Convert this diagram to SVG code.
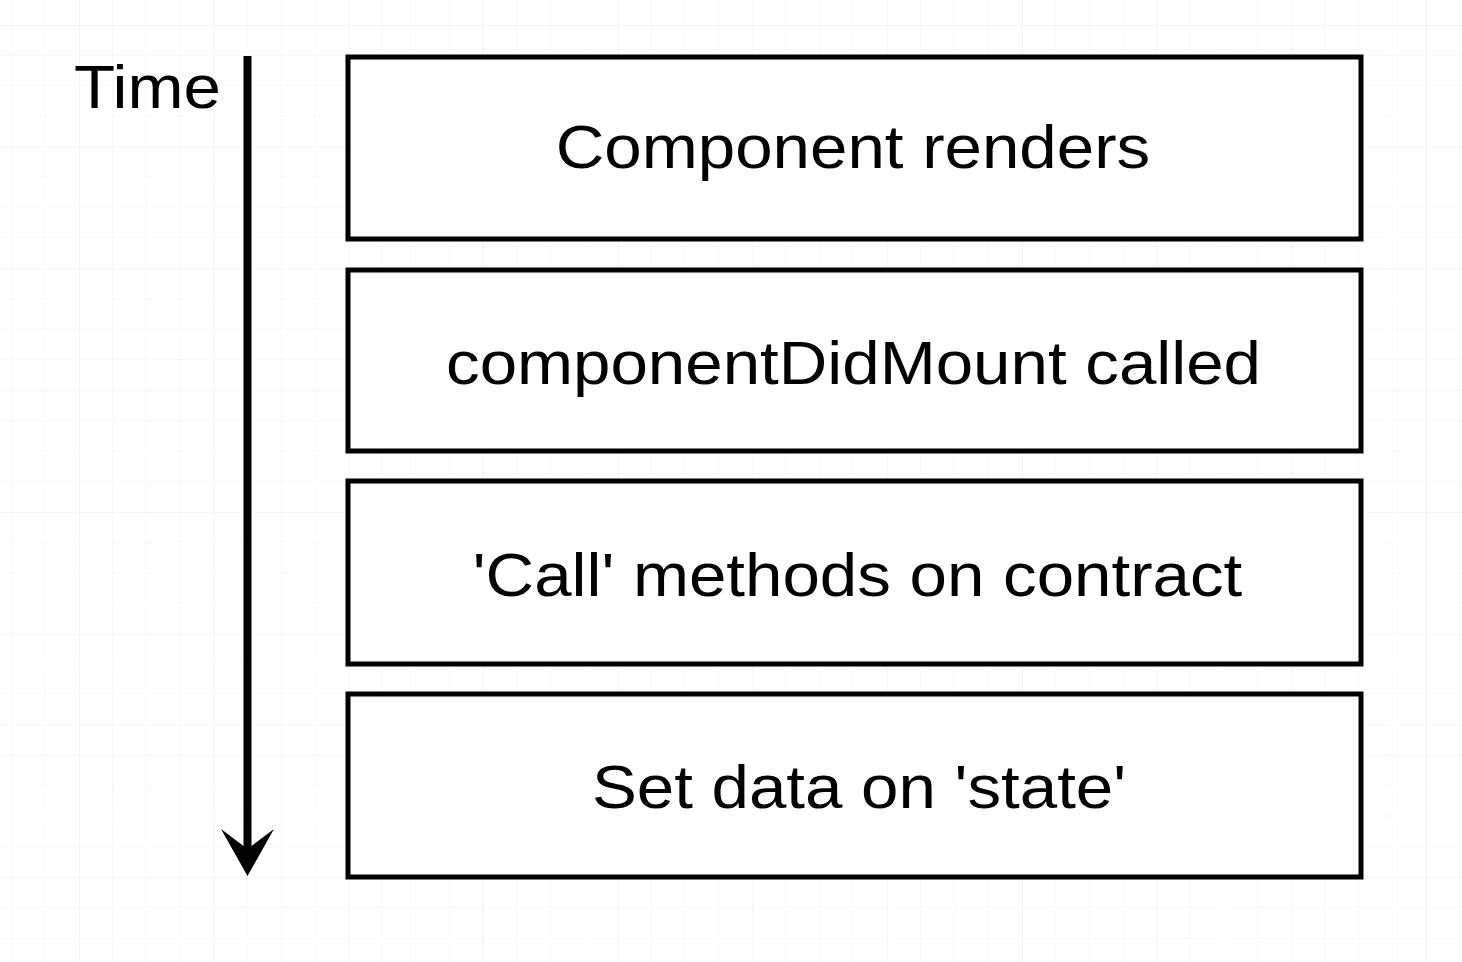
<svg xmlns="http://www.w3.org/2000/svg" width="1462" height="962" viewBox="0 0 1462 962">
  <defs>
    <pattern id="grid" patternUnits="userSpaceOnUse" x="79" y="25" width="134.7" height="121.7">
      <g stroke="#f8f8f8" stroke-width="1">
        <line x1="33.675" y1="0" x2="33.675" y2="121.7"/>
        <line x1="67.35" y1="0" x2="67.35" y2="121.7"/>
        <line x1="101.025" y1="0" x2="101.025" y2="121.7"/>
        <line x1="0" y1="30.425" x2="134.7" y2="30.425"/>
        <line x1="0" y1="60.85" x2="134.7" y2="60.85"/>
        <line x1="0" y1="91.275" x2="134.7" y2="91.275"/>
      </g>
      <g stroke="#ebebeb" stroke-width="1.2">
        <line x1="0" y1="0" x2="0" y2="121.7"/>
        <line x1="0" y1="0" x2="134.7" y2="0"/>
      </g>
    </pattern>
    <style>
      .box { fill: #ffffff; stroke: #000000; stroke-width: 5; }
      .lbl { font-family: "Liberation Sans", Arial, sans-serif; font-size: 62px; fill: #000000; }
    </style>
  </defs>
  <rect x="0" y="0" width="1462" height="962" fill="#ffffff"/>
  <rect x="0" y="0" width="1462" height="962" fill="url(#grid)"/>

  <g id="time-label">
    <text class="lbl" transform="translate(74,108) scale(1.085,1)">Time</text>
  </g>

  <g id="connectors">
    <line x1="247.5" y1="56" x2="247.5" y2="852" stroke="#000" stroke-width="8"/>
    <polygon points="247.5,876 221,829 247.5,849 274,829" fill="#000"/>
  </g>

  <g id="node-1">
    <rect class="box" x="348" y="57" width="1013" height="182"/>
    <text class="lbl" text-anchor="middle" transform="translate(853,168) scale(1.085,1)">Component renders</text>
  </g>
  <g id="node-2">
    <rect class="box" x="348" y="270" width="1013" height="181"/>
    <text class="lbl" text-anchor="middle" transform="translate(853.5,384) scale(1.085,1)">componentDidMount called</text>
  </g>
  <g id="node-3">
    <rect class="box" x="348" y="481" width="1013" height="183"/>
    <text class="lbl" text-anchor="middle" transform="translate(857.5,596) scale(1.085,1)">'Call' methods on contract</text>
  </g>
  <g id="node-4">
    <rect class="box" x="348" y="694" width="1013" height="183"/>
    <text class="lbl" text-anchor="middle" transform="translate(859,808) scale(1.085,1)">Set data on 'state'</text>
  </g>
</svg>
